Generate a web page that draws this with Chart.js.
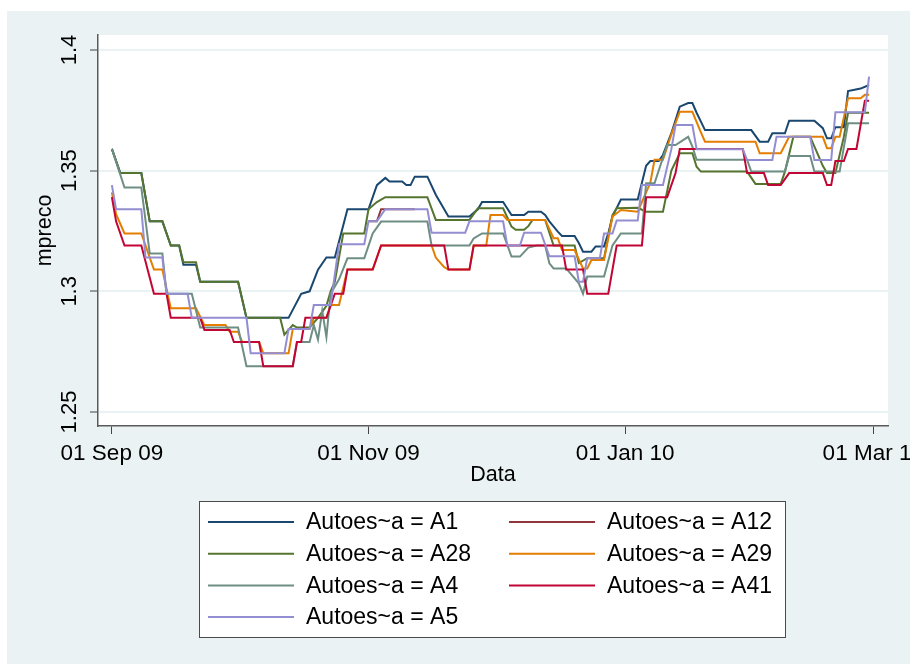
<!DOCTYPE html>
<html>
<head>
<meta charset="utf-8">
<script src="https://cdn.jsdelivr.net/npm/chart.js@4.4.1/dist/chart.umd.min.js"></script>
<style>
  html, body { margin: 0; padding: 0; background: #fff; overflow: hidden; }
  canvas { display: block; }
</style>
</head>
<body>
<canvas id="chart" width="910" height="664"></canvas>
<script>
// Days are counted from 01 Sep 2009 (day 0).
const tickDays = [0, 61, 122, 181];
const tickLabels = ['01 Sep 09', '01 Nov 09', '01 Jan 10', '01 Mar 10'];
const yTicks = [1.25, 1.3, 1.35, 1.4];
const yTickLabels = ['1.25', '1.3', '1.35', '1.4'];

const seriesNames = ['Autoes~a = A1', 'Autoes~a = A12', 'Autoes~a = A28', 'Autoes~a = A29',
                     'Autoes~a = A4', 'Autoes~a = A41', 'Autoes~a = A5'];
const seriesColors = ['#1a476f', '#90353b', '#55752f', '#e37e00', '#6e8e84', '#c10534', '#938dd2'];

// [day, mean price] vertices of each station's line
const a1 = [[0,1.359],[2,1.349],[7,1.349],[9,1.329],[12,1.329],[14,1.319],[16,1.319],[17,1.311],[20,1.311],
  [21,1.304],[30,1.304],[32,1.289],[42,1.289],[45,1.299],[47,1.300],[49,1.309],[51,1.314],[53,1.314],
  [56,1.334],[61,1.334],[63,1.344],[65,1.347],[66,1.3455],[69,1.3455],[70,1.344],[71,1.344],[72,1.3475],
  [75,1.3475],[77,1.340],[80,1.331],[85,1.331],[87,1.334],[88,1.337],[93,1.337],[95,1.3316],[98,1.3316],
  [99,1.333],[102,1.333],[103,1.3316],[104,1.329],[106,1.3247],[107,1.3229],[110,1.3229],[111,1.320],
  [112,1.3164],[114,1.3164],[115,1.3186],[117,1.3186],[118,1.324],[119,1.331],[121,1.338],[125,1.338],
  [126,1.345],[127,1.352],[128,1.354],[130,1.354],[131,1.3565],[133,1.3655],[135,1.3765],[137,1.378],
  [138,1.378],[139,1.374],[141,1.3668],[152,1.3668],[154,1.362],[156,1.362],[157,1.3655],[160,1.3655],
  [161,1.3707],[167,1.3707],[169,1.3676],[170,1.3634],[171,1.3634],[172,1.368],[174,1.368],[175,1.383],
  [178,1.384],[180,1.3855]];

const a12 = [[61,1.329],[63,1.329],[64,1.334],[72,1.334]];

const a28 = [[0,1.359],[2,1.349],[7,1.349],[9,1.329],[12,1.329],[14,1.319],[16,1.319],[17,1.312],[20,1.312],
  [21,1.304],[30,1.304],[32,1.289],[40,1.289],[41,1.282],[43,1.286],[44,1.285],[47,1.285],[49,1.289],
  [51,1.294],[52,1.300],[53,1.304],[55,1.324],[60,1.324],[61,1.334],[63,1.337],[65,1.339],[75,1.339],
  [77,1.3296],[85,1.3296],[87,1.3344],[93,1.3344],[95,1.3268],[96,1.3255],[98,1.3255],[99,1.327],
  [100,1.3296],[103,1.3296],[105,1.319],[110,1.319],[111,1.3117],[113,1.3137],[117,1.3137],[119,1.3316],
  [120,1.3344],[125,1.3346],[127,1.333],[131,1.333],[133,1.350],[135,1.3572],[138,1.3572],[139,1.3516],
  [140,1.3496],[151,1.3496],[153,1.3445],[159,1.3445],[160,1.3496],[162,1.364],[166,1.364],[169,1.352],
  [170,1.349],[172,1.349],[174,1.364],[175,1.374],[180,1.374]];

const a29 = [[0,1.341],[1,1.332],[3,1.324],[7,1.324],[10,1.309],[12,1.309],[14,1.293],[20,1.293],[22,1.286],
  [27,1.286],[28,1.2833],[30,1.2833],[31,1.279],[35,1.279],[36,1.2743],[42,1.2743],[43,1.2844],[47,1.2844],
  [48,1.289],[51,1.289],[52,1.2943],[54,1.2943],[56,1.309],[62,1.309],[64,1.319],[76,1.319],[77,1.314],
  [79,1.310],[80,1.309],[85,1.309],[86,1.319],[89,1.319],[90,1.3316],[93,1.3316],[94,1.3296],[103,1.3296],
  [105,1.322],[106,1.322],[107,1.3171],[110,1.3171],[112,1.3095],[113,1.3095],[114,1.313],[117,1.313],
  [119,1.331],[121,1.3337],[125,1.333],[128,1.345],[129,1.3545],[131,1.3545],[133,1.365],[135,1.3744],
  [138,1.3744],[140,1.366],[141,1.362],[153,1.362],[154,1.3572],[159,1.3572],[161,1.364],[169,1.364],
  [170,1.3593],[171,1.3593],[172,1.364],[173,1.364],[175,1.380],[178,1.380],[179,1.3814],[180,1.3814]];

const a4 = [[0,1.359],[3,1.343],[7,1.343],[9,1.3157],[12,1.3157],[13,1.299],[19,1.299],[21,1.285],[30,1.285],
  [32,1.269],[43,1.269],[44,1.279],[47,1.279],[48,1.286],[49,1.280],[50,1.292],[51,1.281],[52,1.299],
  [54,1.305],[56,1.3137],[60,1.3137],[62,1.324],[64,1.3289],[75,1.3289],[76,1.319],[85,1.319],[86,1.3219],
  [88,1.324],[93,1.324],[95,1.3144],[97,1.3144],[99,1.3181],[101,1.319],[103,1.319],[104,1.3116],
  [105,1.3095],[108,1.3095],[111,1.3033],[112,1.299],[113,1.3061],[117,1.3061],[119,1.319],[121,1.324],
  [126,1.324],[127,1.3448],[129,1.3448],[132,1.3606],[134,1.3606],[137,1.364],[138,1.360],[139,1.3545],
  [151,1.3545],[152,1.3496],[160,1.3496],[161,1.3561],[166,1.3561],[167,1.3496],[173,1.3496],[175,1.3696],
  [180,1.3696]];

const a41 = [[0,1.339],[1,1.329],[3,1.319],[7,1.319],[10,1.299],[13,1.299],[14,1.289],[21,1.289],[22,1.284],
  [28,1.284],[29,1.279],[35,1.279],[36,1.269],[43,1.269],[44,1.279],[45,1.279],[46,1.289],[51,1.289],
  [53,1.299],[55,1.299],[56,1.309],[62,1.309],[64,1.319],[79,1.319],[80,1.309],[85,1.309],[86,1.319],
  [107,1.319],[108,1.309],[112,1.309],[113,1.299],[118,1.299],[120,1.319],[126,1.319],[127,1.339],
  [132,1.339],[133,1.344],[134,1.349],[135,1.359],[150,1.359],[151,1.349],[155,1.349],[156,1.344],
  [159,1.344],[161,1.349],[169,1.349],[170,1.344],[171,1.344],[172,1.354],[174,1.354],[175,1.359],
  [177,1.359],[178,1.369],[179,1.379],[180,1.379]];

const a5 = [[0,1.344],[1,1.334],[7,1.334],[8,1.314],[12,1.314],[13,1.299],[18,1.299],[19,1.289],[32,1.289],
  [33,1.2743],[41,1.2743],[42,1.2844],[47,1.2844],[48,1.2943],[52,1.2943],[54,1.3195],[60,1.3195],
  [61,1.329],[63,1.329],[65,1.334],[75,1.334],[76,1.3243],[84,1.3243],[85,1.329],[93,1.329],[94,1.319],
  [97,1.319],[98,1.3243],[102,1.3243],[104,1.3145],[110,1.3145],[111,1.304],[112,1.304],[113,1.3137],
  [116,1.3137],[117,1.324],[119,1.324],[120,1.3293],[125,1.3293],[126,1.3441],[131,1.3441],[133,1.3589],
  [134,1.3689],[138,1.3689],[139,1.3589],[150,1.3589],[151,1.3544],[157,1.3544],[158,1.364],[166,1.364],
  [167,1.3544],[171,1.3544],[172,1.3742],[179,1.3742],[180,1.389]];

const seriesData = [a1, a12, a28, a29, a4, a41, a5];

const FONT = '"Liberation Sans", Arial, Helvetica, sans-serif';
const BG = '#eaf2f3';

// Graph region, plot region and the boxed two-column key underneath.
const framePlugin = {
  id: 'frame',
  beforeDraw(chart) {
    const { ctx, chartArea: a, width, height } = chart;
    ctx.save();
    ctx.fillStyle = '#ffffff';
    ctx.fillRect(0, 0, width, height);
    ctx.fillStyle = BG;
    ctx.fillRect(7, 11, width - 7, height - 11);
    ctx.fillStyle = '#ffffff';
    ctx.fillRect(a.left, a.top, a.right - a.left, a.bottom - a.top);
    ctx.restore();
  },
  afterDraw(chart) {
    const { ctx } = chart;
    const box = { x: 199.5, y: 501.5, w: 586, h: 136 };
    ctx.save();
    ctx.fillStyle = '#ffffff';
    ctx.fillRect(box.x, box.y, box.w, box.h);
    ctx.strokeStyle = '#4a4a4a';
    ctx.lineWidth = 1;
    ctx.strokeRect(box.x, box.y, box.w, box.h);
    const colX = [208, 509];
    const textX = [306, 607];
    ctx.font = '23px ' + FONT;
    ctx.textBaseline = 'middle';
    ctx.textAlign = 'left';
    chart.data.datasets.forEach((ds, i) => {
      const col = i % 2, row = Math.floor(i / 2);
      const y = 522 + row * 31.7;
      ctx.strokeStyle = ds.borderColor;
      ctx.lineWidth = 2;
      ctx.beginPath();
      ctx.moveTo(colX[col], y);
      ctx.lineTo(colX[col] + 86, y);
      ctx.stroke();
      ctx.fillStyle = '#000';
      ctx.fillText(ds.label, textX[col], y + 1);
    });
    ctx.restore();
  }
};

Chart.defaults.font.family = FONT;

new Chart(document.getElementById('chart'), {
  type: 'line',
  data: {
    datasets: seriesData.map((s, i) => ({
      label: seriesNames[i],
      data: s.map(([x, y]) => ({ x, y })),
      borderColor: seriesColors[i],
      borderWidth: 2,
      pointRadius: 0,
      fill: false,
      tension: 0,
      order: seriesData.length - i
    }))
  },
  options: {
    responsive: false,
    devicePixelRatio: 1,
    animation: false,
    layout: { padding: { left: 0, top: 35, right: 22, bottom: 176 } },
    plugins: { legend: { display: false }, tooltip: { enabled: false } },
    scales: {
      x: {
        type: 'linear',
        min: -3.3,
        max: 184.5,
        afterBuildTicks: (s) => { s.ticks = tickDays.map(v => ({ value: v })); },
        afterFit: (s) => { s.height = 62; s.paddingLeft = 0; s.paddingRight = 0; },
        ticks: {
          callback: (v, i) => tickLabels[i],
          color: '#000',
          font: { size: 22.5 },
          padding: 6,
          minRotation: 0,
          maxRotation: 0,
          autoSkip: false
        },
        grid: { drawOnChartArea: false, drawTicks: true, tickLength: 8, tickColor: '#444', tickWidth: 1 },
        border: { display: true, color: '#5a5a5a', width: 1.5 },
        title: { display: true, text: 'Data', color: '#000', font: { size: 21.5 }, padding: { top: 0, bottom: 0 } }
      },
      y: {
        type: 'linear',
        min: 1.2442,
        max: 1.4062,
        afterBuildTicks: (s) => { s.ticks = yTicks.map(v => ({ value: v })); },
        afterFit: (s) => { s.width = 98; s.paddingTop = 0; s.paddingBottom = 0; },
        ticks: {
          callback: (v, i) => yTickLabels[i],
          color: '#000',
          font: { size: 22 },
          minRotation: 90,
          maxRotation: 90,
          crossAlign: 'center',
          padding: -1
        },
        grid: { color: BG, lineWidth: 2, drawTicks: true, tickLength: 8, tickColor: '#444', tickWidth: 1 },
        border: { display: true, color: '#5a5a5a', width: 1.5 },
        title: { display: true, text: 'mpreco', color: '#000', font: { size: 21.5 }, padding: { top: 32, bottom: 0 } }
      }
    }
  },
  plugins: [framePlugin]
});
</script>
</body>
</html>
